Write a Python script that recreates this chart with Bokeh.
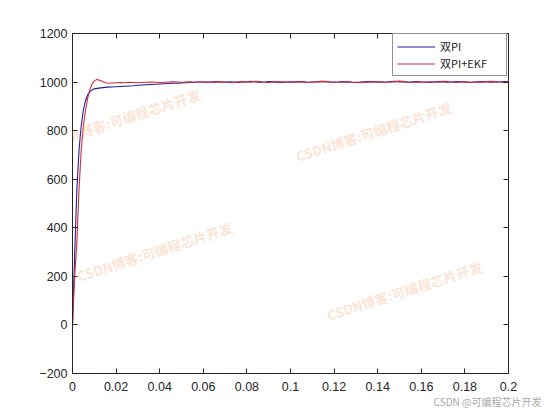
from bokeh.plotting import figure
from bokeh.models import (LinearAxis, FixedTicker, Label, Legend, LegendItem,
                          CustomJSTickFormatter, Range1d)
from bokeh.embed import file_html
from bokeh.resources import INLINE

# ---------------- data ----------------
t_tail = [0.020, 0.022, 0.024, 0.026, 0.028, 0.030, 0.032, 0.034, 0.036, 0.038,
          0.040, 0.042, 0.044, 0.046, 0.048, 0.050, 0.052, 0.054, 0.056, 0.058,
          0.060, 0.062, 0.064, 0.066, 0.068, 0.070, 0.072, 0.074, 0.076, 0.078,
          0.080, 0.082, 0.084, 0.086, 0.088, 0.090, 0.092, 0.094, 0.096, 0.098,
          0.100, 0.102, 0.104, 0.106, 0.108, 0.110, 0.112, 0.114, 0.116, 0.118,
          0.120, 0.122, 0.124, 0.126, 0.128, 0.130, 0.132, 0.134, 0.136, 0.138,
          0.140, 0.142, 0.144, 0.146, 0.148, 0.150, 0.152, 0.154, 0.156, 0.158,
          0.160, 0.162, 0.164, 0.166, 0.168, 0.170, 0.172, 0.174, 0.176, 0.178,
          0.180, 0.182, 0.184, 0.186, 0.188, 0.190, 0.192, 0.194, 0.196, 0.198,
          0.200]

# 双PI (blue)
t_pi_head = [0.000, 0.001, 0.002, 0.003, 0.004, 0.005, 0.006, 0.007, 0.008,
             0.009, 0.010, 0.012, 0.014, 0.016, 0.018]
y_pi_head = [0, 290, 560, 720, 820, 885, 925, 948, 960, 968, 972, 975, 977, 979, 980]
y_pi_tail = [981, 982, 983, 984, 985, 987, 988, 989, 990, 991,
             992, 993, 994, 995, 995, 996, 997, 998, 999, 1000,
             1000, 999, 1001, 1002, 1000, 999, 1001, 1000, 998, 1000,
             1001, 1003, 1001, 999, 1000, 1002, 1001, 999, 998, 1000,
             1001, 1000, 1002, 1001, 999, 1000, 1001, 1003, 1002, 1000,
             999, 1000, 1002, 1001, 999, 998, 1000, 1001, 1002, 1000,
             1001, 999, 1000, 1002, 1003, 1001, 1000, 999, 1001, 1002,
             1000, 999, 1001, 1000, 1002, 1001, 999, 1000, 1002, 1001,
             1000, 998, 1000, 1001, 1002, 1000, 999, 1001, 1000, 1002,
             1001]

# 双PI+EKF (red)
t_ekf_head = [0.000, 0.001, 0.002, 0.003, 0.004, 0.005, 0.006, 0.007, 0.008,
              0.009, 0.010, 0.011, 0.012, 0.013, 0.014, 0.015, 0.016, 0.017, 0.018]
y_ekf_head = [0, 200, 340, 560, 720, 820, 885, 935, 970, 993,
              1005, 1010, 1009, 1005, 1001, 998, 996, 995, 996]
y_ekf_tail = [997, 998, 997, 999, 998, 997, 998, 999, 1000, 999,
              998, 999, 1000, 1001, 1000, 999, 1000, 1001, 999, 1000,
              1001, 1000, 999, 1001, 1002, 1000, 998, 999, 1001, 1002,
              1000, 1001, 1003, 1002, 999, 998, 1000, 1002, 1001, 1000,
              999, 1001, 1002, 1000, 998, 1000, 1001, 1002, 1003, 1001,
              1000, 999, 1001, 1002, 1000, 999, 997, 999, 1001, 1002,
              1000, 1001, 999, 1000, 1002, 1004, 1002, 1000, 999, 1000,
              1001, 1000, 998, 1000, 1001, 1003, 1002, 1000, 999, 1001,
              1002, 1000, 999, 1001, 1000, 1002, 1003, 1001, 1000, 999,
              1001]

series_names = ["双PI", "双PI+EKF"]
x_ticks = [0, 0.02, 0.04, 0.06, 0.08, 0.1, 0.12, 0.14, 0.16, 0.18, 0.2]
x_tick_labels = ["0", "0.02", "0.04", "0.06", "0.08", "0.1", "0.12", "0.14",
                 "0.16", "0.18", "0.2"]
y_ticks = [-200, 0, 200, 400, 600, 800, 1000, 1200]
watermark = "CSDN博客:可编程芯片开发"
credit = "CSDN @可编程芯片开发"

# ---------------- figure ----------------
AX = "#262626"
p = figure(frame_width=436, frame_height=340,
           min_border_left=72, min_border_right=36,
           min_border_top=33, min_border_bottom=31,
           x_range=Range1d(0, 0.2), y_range=Range1d(-200, 1200),
           output_backend="svg", toolbar_location=None)
p.background_fill_color = "white"
p.border_fill_color = "white"
p.outline_line_color = AX
p.xgrid.visible = False
p.ygrid.visible = False

def style_axis(ax, ticks, labels=True):
    ax.ticker = FixedTicker(ticks=ticks)
    ax.minor_tick_line_color = None
    ax.major_tick_in = 5
    ax.major_tick_out = 0
    ax.axis_line_color = AX
    ax.major_tick_line_color = AX
    ax.major_label_text_color = AX
    ax.major_label_text_font = "Liberation Sans"
    ax.major_label_text_font_size = "12.5px"
    if not labels:
        ax.formatter = CustomJSTickFormatter(code="return ''")

bx = p.xaxis[0]
style_axis(bx, x_ticks)
bx.major_label_overrides = {t: s for t, s in zip(x_ticks, x_tick_labels)}
bx.major_label_standoff = 8
ly = p.yaxis[0]
style_axis(ly, y_ticks)
ly.major_label_standoff = 5

top = LinearAxis()
style_axis(top, x_ticks, labels=False)
p.add_layout(top, "above")
right = LinearAxis()
style_axis(right, y_ticks, labels=False)
p.add_layout(right, "right")

r1 = p.line(t_pi_head + t_tail, y_pi_head + y_pi_tail,
            line_color="#1c1c9c", line_width=1.1)
r2 = p.line(t_ekf_head + t_tail, y_ekf_head + y_ekf_tail,
            line_color="#d42a36", line_width=1.1)

legend = Legend(items=[LegendItem(label=series_names[0], renderers=[r1]),
                       LegendItem(label=series_names[1], renderers=[r2])],
                location=(320, 297), margin=0, padding=4, spacing=1,
                glyph_width=38, glyph_height=13, label_height=13,
                label_width=62, label_standoff=5,
                label_text_font="Noto Sans CJK SC", label_text_font_size="11px",
                label_text_color=AX,
                border_line_color=AX, border_line_width=1,
                background_fill_color="white", background_fill_alpha=1)
p.add_layout(legend)

# watermarks (screen units relative to the plot frame)
for (wx, wy) in [(50, 255), (301, 242), (82, 122), (332, 83)]:
    p.add_layout(Label(x=wx, y=wy, x_units="screen", y_units="screen",
                       text=watermark, angle=0.31, angle_units="rad",
                       text_align="center", text_baseline="middle",
                       text_font="Noto Sans CJK SC", text_font_style="bold",
                       text_font_size="13.5px", text_color="#f2a070",
                       text_alpha=0.3))

# credit line below the x axis (side panel, so it is not clipped by the frame)
p.add_layout(Label(x=469, y=0, x_units="screen", y_units="screen",
                   text=credit, text_align="right", text_baseline="bottom",
                   text_font="Noto Sans CJK SC", text_font_size="10px",
                   text_color="#a8a8a8"), "below")

open("out.html", "w").write(file_html(p, INLINE))
